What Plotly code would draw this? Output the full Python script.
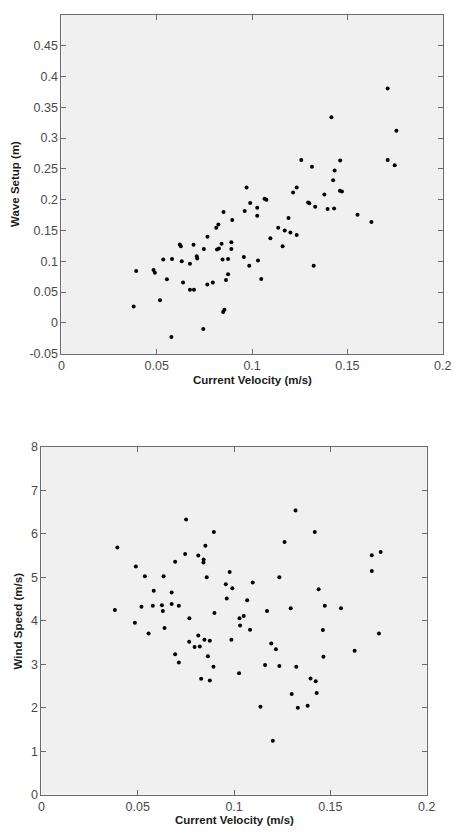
import plotly.graph_objects as go

# ---- Data: top panel (Current Velocity vs Wave Setup) ----
velocity_top = [0.1258, 0.1314, 0.1416, 0.1433, 0.1462, 0.1711, 0.1757, 0.1711, 0.1748,
                0.1425, 0.0971, 0.1234, 0.1215, 0.1379, 0.1461, 0.1471, 0.1065, 0.1075, 0.0990,
                0.1294, 0.1300, 0.1331, 0.1396, 0.1430, 0.1027, 0.0961, 0.0850, 0.1027, 0.1553,
                0.1626, 0.1191, 0.0896, 0.0823, 0.0812, 0.1137, 0.1171, 0.1201, 0.1234, 0.0766,
                0.1096, 0.0891, 0.0840, 0.0621, 0.0626, 0.0693, 0.1160, 0.0826, 0.0816, 0.0747,
                0.0891, 0.0710, 0.0712, 0.0957, 0.0534, 0.0580, 0.0845, 0.0874, 0.0631, 0.0674,
                0.1031, 0.0985, 0.1323, 0.0392, 0.0483, 0.0490, 0.0553, 0.0874, 0.0863, 0.1048,
                0.0638, 0.0794, 0.0765, 0.0674, 0.0695, 0.0517, 0.0379, 0.0855, 0.0848, 0.0744,
                0.0577]
wave_setup = [0.2645, 0.2533, 0.3336, 0.2474, 0.2634, 0.3804, 0.3118, 0.2645, 0.2559,
              0.2314, 0.2197, 0.2197, 0.2117, 0.2085, 0.2144, 0.2133, 0.2016, 0.2000, 0.1947,
              0.1952, 0.1941, 0.1883, 0.1846, 0.1856, 0.1867, 0.1814, 0.1798, 0.1739, 0.1755,
              0.1638, 0.1702, 0.1670, 0.1596, 0.1543, 0.1543, 0.1500, 0.1468, 0.1426, 0.1399,
              0.1372, 0.1309, 0.1282, 0.1271, 0.1245, 0.1266, 0.1245, 0.1207, 0.1191, 0.1197,
              0.1197, 0.1080, 0.1043, 0.1069, 0.1027, 0.1037, 0.1027, 0.1037, 0.1000, 0.0957,
              0.1011, 0.0926, 0.0926, 0.0840, 0.0856, 0.0814, 0.0707, 0.0787, 0.0697, 0.0713,
              0.0654, 0.0654, 0.0622, 0.0537, 0.0537, 0.0367, 0.0266, 0.0213, 0.0176, -0.0101,
              -0.0229]

# ---- Data: bottom panel (Current Velocity vs Wind Speed) ----
velocity_bottom = [0.0394, 0.0490, 0.0537, 0.0583, 0.0634, 0.0676, 0.0694, 0.0746, 0.0751,
                   0.0814, 0.0842, 0.0841, 0.0851, 0.0858, 0.0895, 0.0957, 0.0977, 0.0991,
                   0.1097, 0.1235, 0.1262, 0.1319, 0.1419, 0.1439, 0.1715, 0.1715, 0.1761,
                   0.0962, 0.1068, 0.0381, 0.0485, 0.0519, 0.0578, 0.0625, 0.0630, 0.0676,
                   0.0713, 0.0556, 0.0639, 0.0768, 0.0898, 0.1028, 0.1050, 0.1031, 0.1083,
                   0.1171, 0.1294, 0.1471, 0.1555, 0.1461, 0.1752, 0.0767, 0.0814, 0.0795,
                   0.0822, 0.0846, 0.0874, 0.0986, 0.1193, 0.1217, 0.1626, 0.0694, 0.0713,
                   0.0864, 0.0893, 0.1161, 0.1235, 0.1323, 0.1464, 0.0829, 0.0874, 0.1026,
                   0.1397, 0.1424, 0.1299, 0.1429, 0.1137, 0.1331, 0.1382, 0.1201]
wind_speed = [5.689, 5.250, 5.023, 4.689, 5.023, 4.652, 5.356, 5.538, 6.333,
              5.500, 5.409, 5.341, 5.727, 5.000, 6.045, 4.841, 5.121, 4.750,
              4.879, 5.000, 5.811, 6.538, 6.045, 4.727, 5.508, 5.144, 5.583,
              4.513, 4.475, 4.249, 3.955, 4.325, 4.347, 4.355, 4.226, 4.385,
              4.347, 3.706, 3.834, 4.060, 4.181, 4.060, 4.113, 3.894, 3.796,
              4.226, 4.287, 4.347, 4.287, 3.789, 3.706, 3.517, 3.660, 3.396,
              3.411, 3.562, 3.540, 3.562, 3.479, 3.343, 3.313, 3.230, 3.042,
              3.185, 2.943, 2.981, 2.958, 2.943, 3.170, 2.664, 2.626, 2.792,
              2.672, 2.611, 2.317, 2.340, 2.023, 2.000, 2.045, 1.238]

x_ticks = [0, 0.05, 0.1, 0.15, 0.2]
x_ticktext = ["0", "0.05", "0.1", "0.15", "0.2"]
y1_ticks = [-0.05, 0, 0.05, 0.1, 0.15, 0.2, 0.25, 0.3, 0.35, 0.4, 0.45]
y1_ticktext = ["-0.05", "0", "0.05", "0.1", "0.15", "0.2", "0.25", "0.3", "0.35", "0.4", "0.45"]
y2_ticks = [0, 1, 2, 3, 4, 5, 6, 7, 8]
y2_ticktext = ["0", "1", "2", "3", "4", "5", "6", "7", "8"]

W, H = 461, 835
FONT = "Liberation Sans, Arial, sans-serif"
marker = dict(color="black", size=4, symbol="circle")

fig = go.Figure()
fig.add_trace(go.Scatter(x=velocity_top, y=wave_setup, mode="markers", marker=marker,
                         xaxis="x", yaxis="y", showlegend=False))
fig.add_trace(go.Scatter(x=velocity_bottom, y=wind_speed, mode="markers", marker=marker,
                         xaxis="x2", yaxis="y2", showlegend=False))

axis_common = dict(showline=True, linecolor="#6a6a6a", linewidth=1, mirror="ticks",
                   ticks="inside", ticklen=5, tickcolor="#6a6a6a", tickwidth=1,
                   showgrid=False, zeroline=False,
                   tickfont=dict(family=FONT, size=12.5, color="#4a4a4a"))

# pixel geometry
top_l, top_r, top_t, top_b = 60, 451.5, 8, 352.5
bot_l, bot_r, bot_t, bot_b = 39.5, 435, 447.5, 801

fig.update_layout(
    width=W, height=H, margin=dict(l=0, r=0, t=0, b=0),
    paper_bgcolor="white", plot_bgcolor="#f0f0f0",
    xaxis=dict(domain=[top_l / W, top_r / W], range=[0, 0.2], anchor="y",
               tickvals=x_ticks, ticktext=x_ticktext, **axis_common),
    yaxis=dict(domain=[1 - top_b / H, 1 - top_t / H], range=[-0.05, 0.5], anchor="x",
               tickvals=y1_ticks, ticktext=y1_ticktext, **axis_common),
    xaxis2=dict(domain=[bot_l / W, bot_r / W], range=[0, 0.2], anchor="y2",
                tickvals=x_ticks, ticktext=x_ticktext, **axis_common),
    yaxis2=dict(domain=[1 - bot_b / H, 1 - bot_t / H], range=[0, 8], anchor="x2",
                tickvals=y2_ticks, ticktext=y2_ticktext, **axis_common),
)

title_font = dict(family=FONT, size=11.5, color="#1a1a1a", weight="bold")
annots = [
    dict(text="Current Velocity (m/s)", x=(top_l + top_r) / 2 / W, y=1 - 379 / H,
         textangle=0),
    dict(text="Wave Setup (m)", x=13 / W, y=1 - (top_t + top_b) / 2 / H, textangle=-90),
    dict(text="Current Velocity (m/s)", x=(bot_l + bot_r) / 2 / W, y=1 - 827 / H,
         textangle=0),
    dict(text="Wind Speed (m/s)", x=15 / W, y=1 - (bot_t + bot_b) / 2 / H, textangle=-90),
]
for a in annots:
    fig.add_annotation(xref="paper", yref="paper", showarrow=False,
                       xanchor="center", yanchor="middle", font=title_font, **a)

fig.write_html("out.html")
